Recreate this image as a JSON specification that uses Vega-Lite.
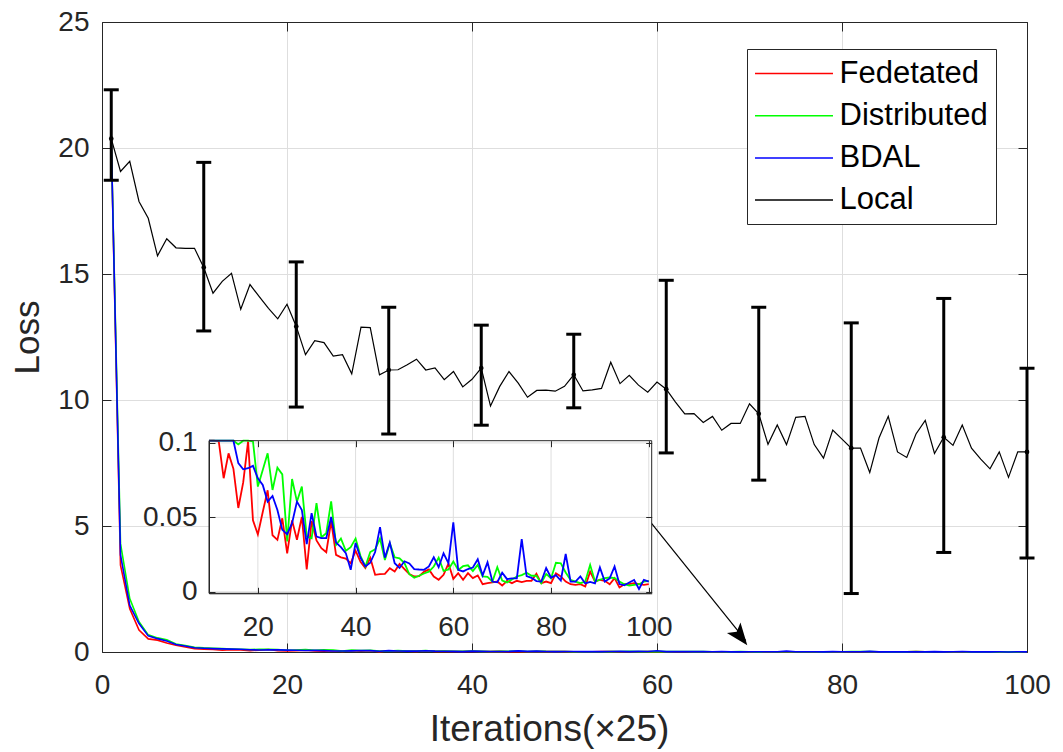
{
  "$schema": "https://vega.github.io/schema/vega-lite/v6.json",
  "width": 925,
  "height": 630,
  "autosize": {"type": "none"},
  "padding": {"left": 102, "top": 22, "right": 36, "bottom": 100},
  "background": "white",
  "config": {
    "font": "Liberation Sans",
    "view": {"stroke": null},
    "axis": {
      "labelFont": "Liberation Sans",
      "titleFont": "Liberation Sans",
      "labelColor": "#262626",
      "titleColor": "#262626",
      "domainColor": "#262626",
      "tickColor": "#262626",
      "domainWidth": 1,
      "tickWidth": 1,
      "gridColor": "#dedede",
      "gridWidth": 1,
      "labelFlush": false,
      "titleFontWeight": "normal",
      "labelFontSize": 28,
      "titleFontSize": 35
    },
    "legend": {"labelFont": "Liberation Sans"}
  },
  "datasets": {
    "loss": [
      {"x": 1, "Fedetated": 20.3, "Distributed": 20.3, "BDAL": 20.3, "Local": 20.37},
      {"x": 2, "Fedetated": 3.45, "Distributed": 4.3, "BDAL": 3.85, "Local": 19.07},
      {"x": 3, "Fedetated": 1.72, "Distributed": 2.12, "BDAL": 1.85, "Local": 19.47},
      {"x": 4, "Fedetated": 0.87, "Distributed": 1.2, "BDAL": 1.13, "Local": 17.88},
      {"x": 5, "Fedetated": 0.52, "Distributed": 0.68, "BDAL": 0.64, "Local": 17.21},
      {"x": 6, "Fedetated": 0.47, "Distributed": 0.56, "BDAL": 0.53, "Local": 15.72},
      {"x": 7, "Fedetated": 0.36, "Distributed": 0.49, "BDAL": 0.44, "Local": 16.4},
      {"x": 8, "Fedetated": 0.27, "Distributed": 0.32, "BDAL": 0.3, "Local": 16.04},
      {"x": 9, "Fedetated": 0.2, "Distributed": 0.26, "BDAL": 0.24, "Local": 16.02},
      {"x": 10, "Fedetated": 0.135, "Distributed": 0.19, "BDAL": 0.17, "Local": 16.02},
      {"x": 11, "Fedetated": 0.115, "Distributed": 0.165, "BDAL": 0.15, "Local": 15.26},
      {"x": 12, "Fedetated": 0.101, "Distributed": 0.15, "BDAL": 0.135, "Local": 14.24},
      {"x": 13, "Fedetated": 0.0763, "Distributed": 0.135, "BDAL": 0.125, "Local": 14.71},
      {"x": 14, "Fedetated": 0.093, "Distributed": 0.122, "BDAL": 0.115, "Local": 15.03},
      {"x": 15, "Fedetated": 0.0826, "Distributed": 0.112, "BDAL": 0.108, "Local": 13.6},
      {"x": 16, "Fedetated": 0.0563, "Distributed": 0.099, "BDAL": 0.0864, "Local": 14.58},
      {"x": 17, "Fedetated": 0.0735, "Distributed": 0.106, "BDAL": 0.0823, "Local": 14.1},
      {"x": 18, "Fedetated": 0.101, "Distributed": 0.106, "BDAL": 0.083, "Local": 13.64},
      {"x": 19, "Fedetated": 0.048, "Distributed": 0.101, "BDAL": 0.0846, "Local": 13.22},
      {"x": 20, "Fedetated": 0.0385, "Distributed": 0.0707, "BDAL": 0.0763, "Local": 13.8},
      {"x": 21, "Fedetated": 0.0536, "Distributed": 0.0819, "BDAL": 0.0718, "Local": 12.92},
      {"x": 22, "Fedetated": 0.0682, "Distributed": 0.093, "BDAL": 0.0606, "Local": 11.8},
      {"x": 23, "Fedetated": 0.038, "Distributed": 0.0684, "BDAL": 0.0644, "Local": 12.35},
      {"x": 24, "Fedetated": 0.0349, "Distributed": 0.0834, "BDAL": 0.055, "Local": 12.28},
      {"x": 25, "Fedetated": 0.0494, "Distributed": 0.0789, "BDAL": 0.0416, "Local": 11.74},
      {"x": 26, "Fedetated": 0.0259, "Distributed": 0.0338, "BDAL": 0.0387, "Local": 11.8},
      {"x": 27, "Fedetated": 0.048, "Distributed": 0.0758, "BDAL": 0.0461, "Local": 11.04},
      {"x": 28, "Fedetated": 0.035, "Distributed": 0.0606, "BDAL": 0.0606, "Local": 12.89},
      {"x": 29, "Fedetated": 0.0503, "Distributed": 0.0707, "BDAL": 0.055, "Local": 12.87},
      {"x": 30, "Fedetated": 0.015, "Distributed": 0.0371, "BDAL": 0.032, "Local": 11.0},
      {"x": 31, "Fedetated": 0.0475, "Distributed": 0.036, "BDAL": 0.0528, "Local": 11.19},
      {"x": 32, "Fedetated": 0.0345, "Distributed": 0.0595, "BDAL": 0.0371, "Local": 11.2},
      {"x": 33, "Fedetated": 0.0293, "Distributed": 0.0367, "BDAL": 0.036, "Local": 11.4},
      {"x": 34, "Fedetated": 0.0266, "Distributed": 0.0394, "BDAL": 0.036, "Local": 11.62},
      {"x": 35, "Fedetated": 0.0474, "Distributed": 0.0608, "BDAL": 0.0503, "Local": 11.19},
      {"x": 36, "Fedetated": 0.0248, "Distributed": 0.0315, "BDAL": 0.0331, "Local": 11.27},
      {"x": 37, "Fedetated": 0.0231, "Distributed": 0.0358, "BDAL": 0.03, "Local": 10.81},
      {"x": 38, "Fedetated": 0.0223, "Distributed": 0.0276, "BDAL": 0.026, "Local": 11.13},
      {"x": 39, "Fedetated": 0.0192, "Distributed": 0.03, "BDAL": 0.0148, "Local": 10.52},
      {"x": 40, "Fedetated": 0.0276, "Distributed": 0.0358, "BDAL": 0.0328, "Local": 10.82},
      {"x": 41, "Fedetated": 0.0202, "Distributed": 0.0242, "BDAL": 0.0229, "Local": 11.27},
      {"x": 42, "Fedetated": 0.0159, "Distributed": 0.017, "BDAL": 0.017, "Local": 9.76},
      {"x": 43, "Fedetated": 0.0228, "Distributed": 0.0267, "BDAL": 0.0195, "Local": 10.54},
      {"x": 44, "Fedetated": 0.0114, "Distributed": 0.0285, "BDAL": 0.0267, "Local": 11.13},
      {"x": 45, "Fedetated": 0.0119, "Distributed": 0.0358, "BDAL": 0.0434, "Local": 10.67},
      {"x": 46, "Fedetated": 0.012, "Distributed": 0.0213, "BDAL": 0.0229, "Local": 10.11},
      {"x": 47, "Fedetated": 0.0159, "Distributed": 0.0327, "BDAL": 0.0331, "Local": 10.38},
      {"x": 48, "Fedetated": 0.0137, "Distributed": 0.0232, "BDAL": 0.0192, "Local": 10.39},
      {"x": 49, "Fedetated": 0.0187, "Distributed": 0.0225, "BDAL": 0.016, "Local": 10.35},
      {"x": 50, "Fedetated": 0.0153, "Distributed": 0.0193, "BDAL": 0.0205, "Local": 10.54},
      {"x": 51, "Fedetated": 0.012, "Distributed": 0.0118, "BDAL": 0.019, "Local": 11.0},
      {"x": 52, "Fedetated": 0.0103, "Distributed": 0.0094, "BDAL": 0.0153, "Local": 10.36},
      {"x": 53, "Fedetated": 0.0105, "Distributed": 0.0108, "BDAL": 0.015, "Local": 10.4},
      {"x": 54, "Fedetated": 0.0134, "Distributed": 0.0123, "BDAL": 0.0148, "Local": 10.46},
      {"x": 55, "Fedetated": 0.015, "Distributed": 0.0135, "BDAL": 0.017, "Local": 11.5},
      {"x": 56, "Fedetated": 0.0103, "Distributed": 0.017, "BDAL": 0.0232, "Local": 10.65},
      {"x": 57, "Fedetated": 0.0081, "Distributed": 0.023, "BDAL": 0.0165, "Local": 10.98},
      {"x": 58, "Fedetated": 0.0114, "Distributed": 0.014, "BDAL": 0.0259, "Local": 10.59},
      {"x": 59, "Fedetated": 0.019, "Distributed": 0.015, "BDAL": 0.0192, "Local": 10.31},
      {"x": 60, "Fedetated": 0.0087, "Distributed": 0.0203, "BDAL": 0.0466, "Local": 10.71},
      {"x": 61, "Fedetated": 0.0125, "Distributed": 0.0147, "BDAL": 0.0147, "Local": 10.43},
      {"x": 62, "Fedetated": 0.0081, "Distributed": 0.0172, "BDAL": 0.0137, "Local": 9.92},
      {"x": 63, "Fedetated": 0.0125, "Distributed": 0.0178, "BDAL": 0.0153, "Local": 9.45},
      {"x": 64, "Fedetated": 0.0092, "Distributed": 0.014, "BDAL": 0.0163, "Local": 9.46},
      {"x": 65, "Fedetated": 0.011, "Distributed": 0.0181, "BDAL": 0.0219, "Local": 9.11},
      {"x": 66, "Fedetated": 0.0051, "Distributed": 0.0103, "BDAL": 0.011, "Local": 9.35},
      {"x": 67, "Fedetated": 0.0058, "Distributed": 0.01, "BDAL": 0.0198, "Local": 8.8},
      {"x": 68, "Fedetated": 0.0063, "Distributed": 0.0069, "BDAL": 0.0069, "Local": 9.07},
      {"x": 69, "Fedetated": 0.0069, "Distributed": 0.0165, "BDAL": 0.0064, "Local": 9.07},
      {"x": 70, "Fedetated": 0.0042, "Distributed": 0.0075, "BDAL": 0.0128, "Local": 9.85},
      {"x": 71, "Fedetated": 0.0074, "Distributed": 0.0063, "BDAL": 0.0085, "Local": 9.45},
      {"x": 72, "Fedetated": 0.0058, "Distributed": 0.0083, "BDAL": 0.009, "Local": 8.24},
      {"x": 73, "Fedetated": 0.0074, "Distributed": 0.0103, "BDAL": 0.009, "Local": 9.01},
      {"x": 74, "Fedetated": 0.0065, "Distributed": 0.0112, "BDAL": 0.0354, "Local": 8.23},
      {"x": 75, "Fedetated": 0.0074, "Distributed": 0.0128, "BDAL": 0.0106, "Local": 9.31},
      {"x": 76, "Fedetated": 0.0074, "Distributed": 0.0108, "BDAL": 0.0094, "Local": 9.35},
      {"x": 77, "Fedetated": 0.0122, "Distributed": 0.0108, "BDAL": 0.0072, "Local": 8.23},
      {"x": 78, "Fedetated": 0.0058, "Distributed": 0.0058, "BDAL": 0.0069, "Local": 7.69},
      {"x": 79, "Fedetated": 0.0069, "Distributed": 0.012, "BDAL": 0.016, "Local": 8.81},
      {"x": 80, "Fedetated": 0.0058, "Distributed": 0.009, "BDAL": 0.0095, "Local": 8.45},
      {"x": 81, "Fedetated": 0.0125, "Distributed": 0.0195, "BDAL": 0.0112, "Local": 8.09},
      {"x": 82, "Fedetated": 0.0103, "Distributed": 0.0192, "BDAL": 0.0076, "Local": 8.09},
      {"x": 83, "Fedetated": 0.0069, "Distributed": 0.013, "BDAL": 0.0254, "Local": 7.12},
      {"x": 84, "Fedetated": 0.0051, "Distributed": 0.008, "BDAL": 0.0069, "Local": 8.49},
      {"x": 85, "Fedetated": 0.0047, "Distributed": 0.0069, "BDAL": 0.0069, "Local": 9.35},
      {"x": 86, "Fedetated": 0.0051, "Distributed": 0.0058, "BDAL": 0.0103, "Local": 7.94},
      {"x": 87, "Fedetated": 0.0036, "Distributed": 0.0069, "BDAL": 0.0056, "Local": 7.72},
      {"x": 88, "Fedetated": 0.0135, "Distributed": 0.0181, "BDAL": 0.0066, "Local": 8.65},
      {"x": 89, "Fedetated": 0.0069, "Distributed": 0.0069, "BDAL": 0.0056, "Local": 9.19},
      {"x": 90, "Fedetated": 0.0081, "Distributed": 0.0081, "BDAL": 0.0164, "Local": 7.88},
      {"x": 91, "Fedetated": 0.0074, "Distributed": 0.0092, "BDAL": 0.0069, "Local": 8.52},
      {"x": 92, "Fedetated": 0.0051, "Distributed": 0.0096, "BDAL": 0.009, "Local": 8.2},
      {"x": 93, "Fedetated": 0.0092, "Distributed": 0.0092, "BDAL": 0.017, "Local": 9.01},
      {"x": 94, "Fedetated": 0.0029, "Distributed": 0.0069, "BDAL": 0.0052, "Local": 8.09},
      {"x": 95, "Fedetated": 0.0051, "Distributed": 0.0051, "BDAL": 0.0044, "Local": 7.65},
      {"x": 96, "Fedetated": 0.0051, "Distributed": 0.0042, "BDAL": 0.0063, "Local": 7.27},
      {"x": 97, "Fedetated": 0.0058, "Distributed": 0.0047, "BDAL": 0.008, "Local": 7.94},
      {"x": 98, "Fedetated": 0.0051, "Distributed": 0.0051, "BDAL": 0.0019, "Local": 6.93},
      {"x": 99, "Fedetated": 0.0047, "Distributed": 0.0069, "BDAL": 0.008, "Local": 7.94},
      {"x": 100, "Fedetated": 0.0051, "Distributed": 0.0074, "BDAL": 0.0069, "Local": 7.94}
    ],
    "bars": [
      {"x": 1, "mean": 20.37, "lo": 18.72, "hi": 22.31},
      {"x": 11, "mean": 15.26, "lo": 12.74, "hi": 19.43},
      {"x": 21, "mean": 12.92, "lo": 9.72, "hi": 15.48},
      {"x": 31, "mean": 11.19, "lo": 8.65, "hi": 13.68},
      {"x": 41, "mean": 11.27, "lo": 9.0, "hi": 12.97},
      {"x": 51, "mean": 11.0, "lo": 9.69, "hi": 12.61},
      {"x": 61, "mean": 10.43, "lo": 7.9, "hi": 14.75},
      {"x": 71, "mean": 9.45, "lo": 6.82, "hi": 13.68},
      {"x": 81, "mean": 8.09, "lo": 2.32, "hi": 13.06},
      {"x": 91, "mean": 8.52, "lo": 3.95, "hi": 14.03},
      {"x": 100, "mean": 7.94, "lo": 3.73, "hi": 11.26}
    ],
    "insetGridX": [{"g": 20}, {"g": 40}, {"g": 60}, {"g": 80}, {"g": 100}],
    "insetGridY": [{"g": 0}, {"g": 0.05}, {"g": 0.1}]
  },
  "layer": [
    {
      "layer": [
        {
          "data": {"name": "loss"},
          "transform": [
            {"fold": ["Fedetated", "Distributed", "BDAL", "Local"], "as": ["series", "value"]},
            {"filter": "datum.series != 'Local'"}
          ],
          "mark": {"type": "line", "strokeWidth": 1.6},
          "encoding": {
            "x": {
              "field": "x", "type": "quantitative",
              "scale": {"domain": [0, 100], "nice": false, "zero": false},
              "axis": {
                "orient": "bottom", "values": [0, 20, 40, 60, 80, 100], "grid": true,
                "tickSize": -9, "labelPadding": 28, "title": "Iterations(×25)", "titlePadding": 12,
                "titleFontSize": 37, "titleX": 447, "titleAlign": "center"
              }
            },
            "y": {
              "field": "value", "type": "quantitative",
              "scale": {"domain": [0, 25], "nice": false, "zero": false},
              "axis": {
                "orient": "left", "values": [0, 5, 10, 15, 20, 25], "grid": true,
                "tickSize": -9, "labelPadding": 22, "title": "Loss", "titlePadding": 12
              }
            },
            "color": {
              "field": "series", "type": "nominal",
              "scale": {
                "domain": ["Fedetated", "Distributed", "BDAL", "Local"],
                "range": ["#ff0000", "#00ff00", "#0000ff", "#000000"]
              },
              "legend": {
                "orient": "none", "legendX": 645, "legendY": 27, "title": null,
                "symbolType": "M-2.5,0H2.5", "symbolSize": 973, "symbolStrokeWidth": 1.5,
                "symbolOffset": 22.5, "labelOffset": 29, "labelFontSize": 31,
                "labelColor": "#000000", "rowPadding": 10.2, "padding": 8,
                "strokeColor": "#262626", "fillColor": "#ffffff", "labelLimit": 400
              }
            }
          }
        },
        {
          "data": {"name": "loss"},
          "transform": [
            {"fold": ["Fedetated", "Distributed", "BDAL", "Local"], "as": ["series", "value"]},
            {"filter": "datum.series == 'Local'"}
          ],
          "mark": {"type": "line", "strokeWidth": 1.2},
          "encoding": {
            "x": {"field": "x", "type": "quantitative", "axis": null},
            "y": {"field": "value", "type": "quantitative", "axis": null},
            "color": {"field": "series", "type": "nominal"}
          }
        },
        {
          "data": {"name": "bars"},
          "mark": {"type": "rule", "color": "#000000", "strokeWidth": 3},
          "encoding": {
            "x": {
              "field": "x", "type": "quantitative",
              "axis": {"orient": "top", "values": [0, 20, 40, 60, 80, 100], "labels": false, "grid": false, "tickSize": -9, "title": null}
            },
            "y": {
              "field": "lo", "type": "quantitative",
              "axis": {"orient": "right", "values": [0, 5, 10, 15, 20, 25], "labels": false, "grid": false, "tickSize": -9, "title": null}
            },
            "y2": {"field": "hi"}
          }
        },
        {
          "data": {"name": "bars"},
          "transform": [{"fold": ["lo", "hi"], "as": ["end", "bound"]}],
          "mark": {"type": "tick", "orient": "horizontal", "color": "#000000", "size": 15, "thickness": 3, "opacity": 1},
          "encoding": {
            "x": {"field": "x", "type": "quantitative", "axis": null},
            "y": {"field": "bound", "type": "quantitative", "axis": null}
          }
        },
        {
          "data": {"name": "bars"},
          "mark": {"type": "point", "filled": true, "color": "#000000", "size": 22, "opacity": 1},
          "encoding": {
            "x": {"field": "x", "type": "quantitative", "axis": null},
            "y": {"field": "mean", "type": "quantitative", "axis": null}
          }
        },
        {
          "data": {"values": [{}]},
          "mark": {"type": "rule", "color": "#000000", "strokeWidth": 1.2},
          "encoding": {
            "x": {"datum": 59.3, "axis": null}, "y": {"datum": 5.15, "axis": null},
            "x2": {"datum": 69.6}, "y2": {"datum": 0.45}
          }
        },
        {
          "data": {"values": [{}]},
          "mark": {
            "type": "point", "filled": true, "color": "#000000", "opacity": 1,
            "shape": "M0,0L-0.7,1.8L0,1.4L0.7,1.8Z", "size": 600, "angle": 142
          },
          "encoding": {"x": {"datum": 69.76, "axis": null}, "y": {"datum": 0.27, "axis": null}}
        }
      ],
      "resolve": {"axis": {"x": "independent", "y": "independent"}}
    },
    {
      "layer": [
        {
          "data": {"values": [{}]},
          "mark": {"type": "rect", "fill": "#ffffff", "stroke": null},
          "encoding": {
            "x": {
              "datum": 10, "type": "quantitative",
              "scale": {"domain": [10, 100.6], "range": [107, 549.7], "nice": false, "zero": false, "clamp": true},
              "axis": null
            },
            "x2": {"datum": 100.6},
            "y": {
              "datum": -0.001, "type": "quantitative",
              "scale": {"domain": [-0.001, 0.1015], "range": [571.3, 418.7], "nice": false, "zero": false, "clamp": true},
              "axis": null
            },
            "y2": {"datum": 0.1015}
          }
        },
        {
          "data": {"name": "insetGridX"},
          "mark": {"type": "rule", "color": "#dedede", "strokeWidth": 1},
          "encoding": {
            "x": {"field": "g", "type": "quantitative", "axis": null},
            "y": {"datum": -0.001, "type": "quantitative", "axis": null},
            "y2": {"datum": 0.1015}
          }
        },
        {
          "data": {"name": "insetGridY"},
          "mark": {"type": "rule", "color": "#dedede", "strokeWidth": 1},
          "encoding": {
            "y": {"field": "g", "type": "quantitative", "axis": null},
            "x": {"datum": 10, "type": "quantitative", "axis": null},
            "x2": {"datum": 100.6}
          }
        },
        {
          "data": {"name": "loss"},
          "transform": [
            {"filter": "datum.x >= 10"},
            {"fold": ["Fedetated", "Distributed", "BDAL"], "as": ["series", "value"]}
          ],
          "mark": {"type": "line", "strokeWidth": 1.8},
          "encoding": {
            "x": {
              "field": "x", "type": "quantitative",
              "axis": {
                "orient": "bottom", "offset": -58.7, "values": [20, 40, 60, 80, 100], "grid": false,
                "zindex": 1, "tickSize": -6, "labelPadding": 26, "domain": true, "title": null
              }
            },
            "y": {
              "field": "value", "type": "quantitative",
              "axis": {
                "orient": "left", "offset": -107, "values": [0, 0.05, 0.1], "format": "~g", "grid": false,
                "zindex": 1, "tickSize": -6, "labelPadding": 18, "domain": true, "title": null
              }
            },
            "color": {"field": "series", "type": "nominal", "legend": null}
          }
        },
        {
          "data": {"values": [{}]},
          "mark": {"type": "rect", "fill": null, "stroke": "#262626", "strokeWidth": 1},
          "encoding": {
            "x": {
              "datum": 10, "type": "quantitative",
              "axis": {"orient": "top", "offset": -418.7, "values": [20, 40, 60, 80, 100], "labels": false, "grid": false, "domain": false, "zindex": 1, "tickSize": -6, "title": null}
            },
            "x2": {"datum": 100.6},
            "y": {
              "datum": -0.001, "type": "quantitative",
              "axis": {"orient": "right", "offset": -375.3, "values": [0, 0.05, 0.1], "labels": false, "grid": false, "domain": false, "zindex": 1, "tickSize": -6, "title": null}
            },
            "y2": {"datum": 0.1015}
          }
        }
      ],
      "resolve": {"axis": {"x": "independent", "y": "independent"}}
    }
  ],
  "resolve": {"scale": {"x": "independent", "y": "independent"}}
}
